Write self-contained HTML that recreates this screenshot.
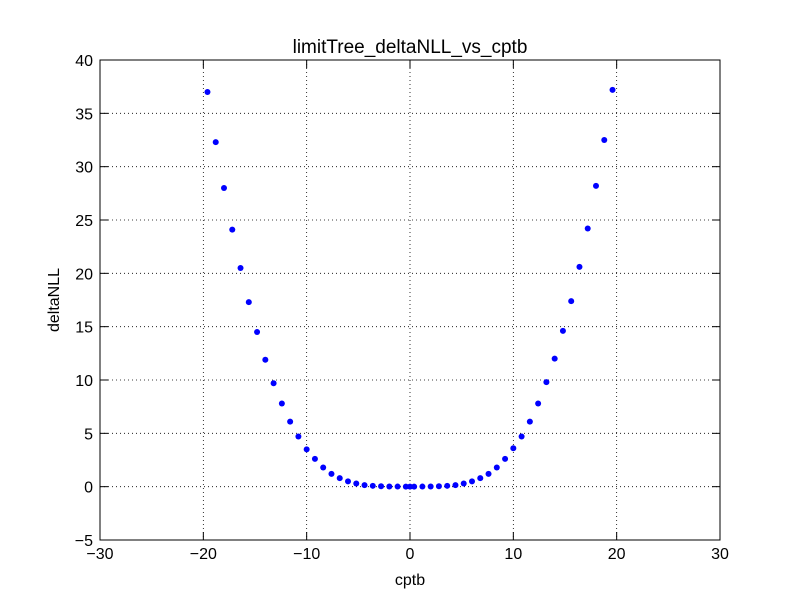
<!DOCTYPE html>
<html><head><meta charset="utf-8"><style>
body{margin:0;background:#fff;}
svg text{font-family:"Liberation Sans","DejaVu Sans",sans-serif;fill:#000;}
</style></head><body>
<svg id="chart" width="800" height="600" xmlns="http://www.w3.org/2000/svg">
<rect width="800" height="600" fill="#fff"/>
<g id="grid"></g>
<g id="points"></g>
<rect x="100" y="60" width="620" height="480" fill="none" stroke="#000" stroke-width="1"/>
<g id="ticks"></g>
<text x="410" y="53" font-size="19" text-anchor="middle">limitTree_deltaNLL_vs_cptb</text>
<text x="410" y="585" font-size="16" text-anchor="middle">cptb</text>
<text transform="translate(59,300) rotate(-90)" font-size="16" text-anchor="middle">deltaNLL</text>
</svg>
<script>
const xTicks=[-30,-20,-10,0,10,20,30];
const yTicks=[-5,0,5,10,15,20,25,30,35,40];
const xTickLabels=["\u221230","\u221220","\u221210","0","10","20","30"];
const yTickLabels=["\u22125","0","5","10","15","20","25","30","35","40"];
const cptb=[-19.6,-18.8,-18.0,-17.2,-16.4,-15.6,-14.8,-14.0,-13.2,-12.4,-11.6,-10.8,-10.0,-9.2,-8.4,-7.6,-6.8,-6.0,-5.2,-4.4,-3.6,-2.8,-2.0,-1.2,-0.4,0,0.4,1.2,2.0,2.8,3.6,4.4,5.2,6.0,6.8,7.6,8.4,9.2,10.0,10.8,11.6,12.4,13.2,14.0,14.8,15.6,16.4,17.2,18.0,18.8,19.6];
const deltaNLL=[37.0,32.3,28.0,24.1,20.5,17.3,14.5,11.9,9.7,7.8,6.1,4.7,3.5,2.6,1.8,1.2,0.8,0.5,0.3,0.15,0.08,0.04,0.02,0.01,0,0,0,0.01,0.02,0.04,0.08,0.15,0.3,0.5,0.8,1.2,1.8,2.6,3.6,4.7,6.1,7.8,9.8,12.0,14.6,17.4,20.6,24.2,28.2,32.5,37.2];
const NS="http://www.w3.org/2000/svg";
const sx=v=>100+(v+30)*620/60;
const sy=v=>540-(v+5)*480/45;
const grid=document.getElementById('grid'),ticks=document.getElementById('ticks'),pts=document.getElementById('points');
function mk(t,a){const e=document.createElementNS(NS,t);for(const k in a)e.setAttribute(k,a[k]);return e;}
xTicks.forEach((v,i)=>{
 const x=sx(v);
 const g=mk('line',{x1:x,x2:x,y1:60,y2:540,stroke:'#000','stroke-dasharray':'1,3','stroke-width':0.8});
 
 
 grid.appendChild(g);
 const t1=mk('line',{x1:x,x2:x,y1:540,y2:532,stroke:'#000'});
 
 
 ticks.appendChild(t1);
 const t2=mk('line',{x1:x,x2:x,y1:60,y2:68,stroke:'#000'});
 
 
 ticks.appendChild(t2);
 const l=mk('text',{x:x,y:559,'font-size':16,'text-anchor':'middle'});
 l.textContent=xTickLabels[i];
 
 
 ticks.appendChild(l);
});
yTicks.forEach((v,i)=>{
 const y=sy(v);
 const g=mk('line',{x1:100,x2:720,y1:y,y2:y,stroke:'#000','stroke-dasharray':'1,3','stroke-width':0.8});
 
 
 grid.appendChild(g);
 const t1=mk('line',{x1:100,x2:108,y1:y,y2:y,stroke:'#000'});
 
 
 ticks.appendChild(t1);
 const t2=mk('line',{x1:712,x2:720,y1:y,y2:y,stroke:'#000'});
 
 
 ticks.appendChild(t2);
 const l=mk('text',{x:93,y:y+6,'font-size':16,'text-anchor':'end'});
 l.textContent=yTickLabels[i];
 
 
 ticks.appendChild(l);
});
cptb.forEach((v,i)=>{
 const c=mk('circle',{cx:sx(v),cy:sy(deltaNLL[i]),r:3,fill:'#0000ff'});
 
 
 pts.appendChild(c);
});
</script>
</body></html>
